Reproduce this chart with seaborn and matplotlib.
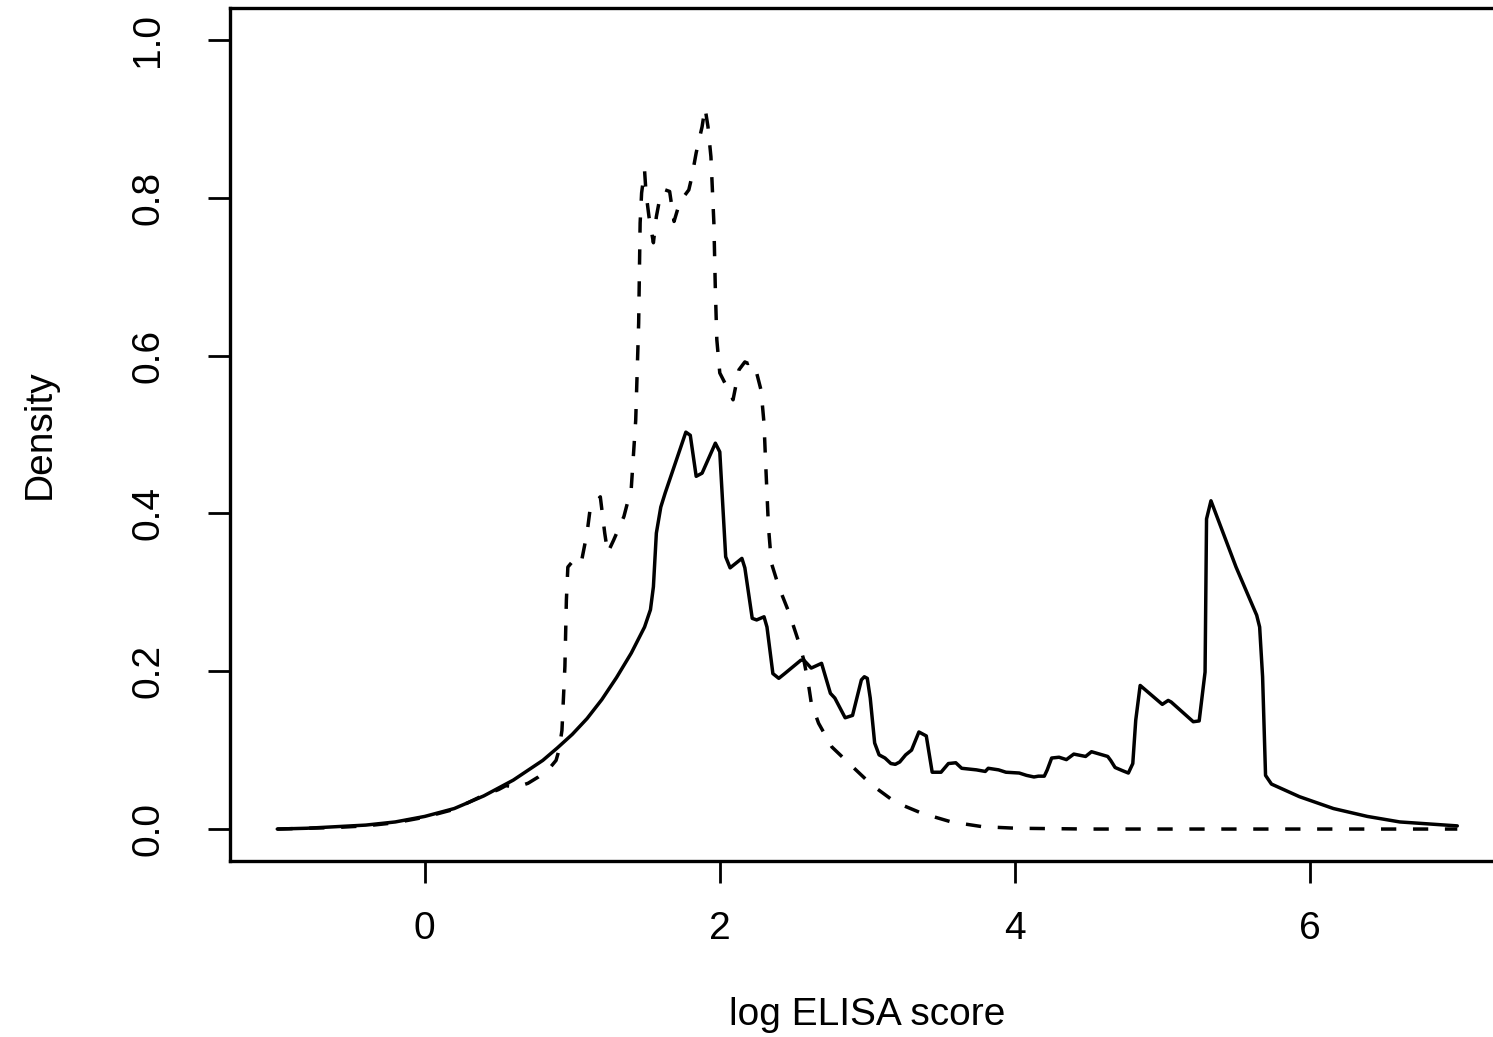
import matplotlib
matplotlib.use("Agg")
import matplotlib.pyplot as plt
import numpy as np
import pandas as pd
import seaborn as sns

# Density estimates of log ELISA score for two groups
solid_x = [-1.00, -0.80, -0.60, -0.40, -0.20, 0.00, 0.20, 0.40, 0.60, 0.80, 0.90,
           1.00, 1.10, 1.20, 1.30, 1.40, 1.49, 1.53, 1.55, 1.57, 1.60, 1.63, 1.77,
           1.80, 1.84, 1.88, 1.97, 2.00, 2.04, 2.07, 2.15, 2.17, 2.22, 2.25, 2.30,
           2.32, 2.36, 2.40, 2.44, 2.55, 2.57, 2.62, 2.69, 2.75, 2.78, 2.85, 2.90,
           2.92, 2.96, 2.98, 3.00, 3.02, 3.05, 3.08, 3.12, 3.16, 3.19, 3.22, 3.26,
           3.30, 3.35, 3.40, 3.44, 3.50, 3.55, 3.60, 3.64, 3.74, 3.80, 3.82, 3.89,
           3.94, 4.03, 4.08, 4.13, 4.16, 4.20, 4.22, 4.25, 4.30, 4.35, 4.40, 4.48,
           4.52, 4.63, 4.65, 4.68, 4.73, 4.77, 4.80, 4.82, 4.85, 5.00, 5.04, 5.06,
           5.21, 5.25, 5.29, 5.30, 5.33, 5.50, 5.61, 5.64, 5.66, 5.68, 5.70, 5.74,
           5.93, 6.16, 6.39, 6.61, 7.00]
solid_y = [0.000, 0.001, 0.003, 0.005, 0.009, 0.016, 0.026, 0.042, 0.062, 0.087, 0.103,
           0.120, 0.140, 0.164, 0.192, 0.223, 0.256, 0.278, 0.307, 0.375, 0.408, 0.426, 0.503,
           0.499, 0.447, 0.451, 0.489, 0.478, 0.345, 0.331, 0.343, 0.331, 0.267, 0.265, 0.269,
           0.256, 0.197, 0.191, 0.197, 0.214, 0.214, 0.204, 0.210, 0.172, 0.166, 0.141, 0.144,
           0.159, 0.189, 0.193, 0.191, 0.166, 0.109, 0.094, 0.090, 0.083, 0.082, 0.085, 0.094,
           0.100, 0.123, 0.118, 0.072, 0.072, 0.083, 0.084, 0.077, 0.075, 0.073, 0.077, 0.075,
           0.072, 0.071, 0.068, 0.066, 0.067, 0.067, 0.075, 0.090, 0.091, 0.088, 0.095, 0.092,
           0.098, 0.092, 0.087, 0.078, 0.074, 0.071, 0.083, 0.138, 0.182, 0.158, 0.163, 0.161,
           0.136, 0.137, 0.199, 0.393, 0.416, 0.332, 0.284, 0.271, 0.256, 0.193, 0.068, 0.057,
           0.041, 0.026, 0.016, 0.009, 0.004]

dashed_x = [-1.00, -0.80, -0.60, -0.40, -0.20, 0.00, 0.20, 0.40, 0.50, 0.55, 0.62,
            0.70, 0.77, 0.85, 0.89, 0.91, 0.93, 0.95, 0.96, 0.97, 1.01, 1.06, 1.10,
            1.12, 1.14, 1.19, 1.22, 1.24, 1.28, 1.35, 1.40, 1.43, 1.45, 1.46, 1.47,
            1.49, 1.50, 1.52, 1.55, 1.57, 1.60, 1.63, 1.66, 1.69, 1.72, 1.75, 1.79,
            1.81, 1.84, 1.88, 1.90, 1.92, 1.94, 1.96, 1.97, 1.98, 2.00, 2.06, 2.09,
            2.13, 2.17, 2.19, 2.22, 2.25, 2.28, 2.30, 2.31, 2.33, 2.35, 2.40, 2.47,
            2.53, 2.57, 2.60, 2.62, 2.67, 2.76, 2.90, 3.03, 3.19, 3.37, 3.57, 3.78,
            4.01, 4.50, 5.00, 6.00, 7.00]
dashed_y = [0.000, 0.001, 0.002, 0.004, 0.008, 0.015, 0.025, 0.043, 0.050, 0.055, 0.053,
            0.058, 0.066, 0.078, 0.087, 0.100, 0.125, 0.206, 0.290, 0.332, 0.341, 0.337, 0.375,
            0.404, 0.411, 0.421, 0.375, 0.350, 0.366, 0.396, 0.432, 0.518, 0.641, 0.768, 0.806,
            0.835, 0.806, 0.776, 0.743, 0.776, 0.806, 0.810, 0.808, 0.770, 0.789, 0.800, 0.810,
            0.826, 0.857, 0.890, 0.914, 0.890, 0.852, 0.768, 0.683, 0.620, 0.578, 0.556, 0.544,
            0.582, 0.592, 0.590, 0.592, 0.578, 0.556, 0.514, 0.468, 0.383, 0.337, 0.307, 0.274,
            0.240, 0.214, 0.185, 0.160, 0.134, 0.104, 0.079, 0.056, 0.034, 0.020, 0.009, 0.003,
            0.001, 0.000, 0.000, 0.000, 0.000]

x_ticks = [0, 2, 4, 6]
y_ticks = [0.0, 0.2, 0.4, 0.6, 0.8, 1.0]
y_tick_labels = ["0.0", "0.2", "0.4", "0.6", "0.8", "1.0"]

sns.set_theme(style="white")
plt.rcParams["font.family"] = ["Liberation Sans", "DejaVu Sans"]

fig = plt.figure(figsize=(14.93, 10.37), dpi=100)
ax = fig.add_axes([0.1541, 0.1701, 0.8536, 0.8218])

lw = 2.5
sns.lineplot(x=solid_x, y=solid_y, ax=ax, color="black", linewidth=lw,
             estimator=None, sort=False)
sns.lineplot(x=dashed_x, y=dashed_y, ax=ax, color="black", linewidth=lw,
             estimator=None, sort=False, linestyle=(0, (4.4, 4.8)))

ax.set_xlim(-1.32, 7.32)
ax.set_ylim(-0.04, 1.04)
ax.set_xticks(x_ticks)
ax.set_xticklabels([str(t) for t in x_ticks])
ax.set_yticks(y_ticks)
ax.set_yticklabels(y_tick_labels, rotation=90, va="center")

for side in ["left", "bottom", "top", "right"]:
    ax.spines[side].set_color("black")
    ax.spines[side].set_linewidth(2.4)

fs = 28
ax.tick_params(axis="both", direction="out", length=16, width=2.0,
               color="black", labelcolor="black", labelsize=fs,
               left=True, bottom=True)
ax.tick_params(axis="x", pad=20)
ax.tick_params(axis="y", pad=30)

ax.set_xlabel("log ELISA score", fontsize=fs, color="black", labelpad=36)
ax.set_ylabel("Density", fontsize=fs, color="black", labelpad=52)

fig.savefig("out.png", dpi=100, facecolor="white")
